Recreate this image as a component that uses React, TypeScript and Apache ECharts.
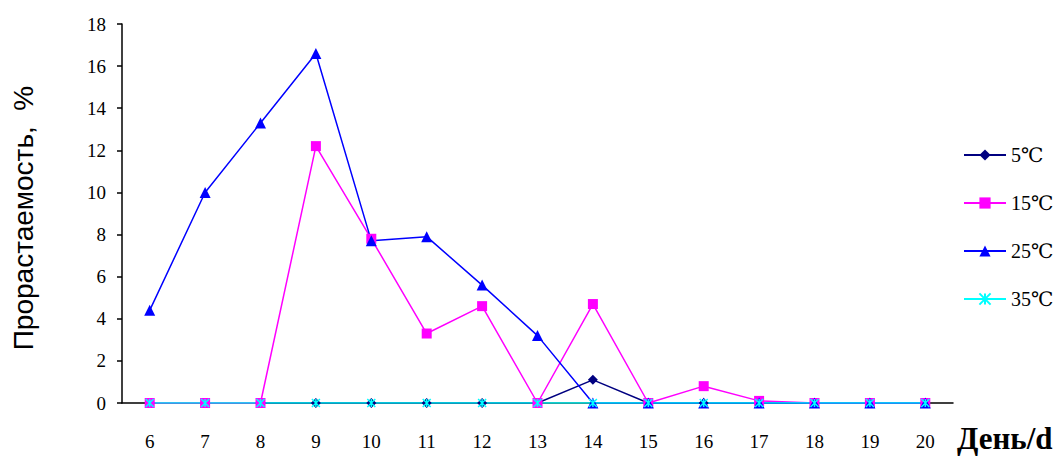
import React, { useEffect, useRef } from "react";
import * as echarts from "echarts";

const days = ["6", "7", "8", "9", "10", "11", "12", "13", "14", "15", "16", "17", "18", "19", "20"];
const t5 = [0, 0, 0, 0, 0, 0, 0, 0, 1.1, 0, 0, 0, 0, 0, 0];
const t15 = [0, 0, 0, 12.2, 7.8, 3.3, 4.6, 0, 4.7, 0, 0.8, 0.1, 0, 0, 0];
const t25 = [4.4, 10.0, 13.3, 16.6, 7.7, 7.9, 5.6, 3.2, 0, 0, 0, 0, 0, 0, 0];
const t35 = [0, 0, 0, 0, 0, 0, 0, 0, 0, 0, 0, 0, 0, 0, 0];
const seriesNames = ["5℃", "15℃", "25℃", "35℃"];

const serif = "'Liberation Serif', 'DejaVu Serif', serif";
const asterisk = "path://M0,0L10,10M10,0L0,10M5,0L5,10";

export default function App() {
  const ref = useRef<HTMLDivElement>(null);
  useEffect(() => {
    const chart = echarts.init(ref.current!, null, { renderer: "svg" });
    const mk = (name: string, data: number[], color: string, symbol: string, size: number, extra: any = {}) => ({
      name,
      type: "line",
      data,
      symbol,
      symbolSize: size,
      lineStyle: { color, width: 1.5 },
      itemStyle: { color, ...extra },
    });
    chart.setOption({
      animation: false,
      backgroundColor: "#fff",
      grid: { left: 122, top: 24, right: 106, bottom: 53 },
      legend: {
        orient: "vertical",
        left: 958,
        top: 140,
        itemWidth: 42,
        itemHeight: 14,
        itemGap: 28,
        textStyle: { fontFamily: serif, fontSize: 20, lineHeight: 16, color: "#000" },
        data: seriesNames,
      },
      xAxis: {
        type: "category",
        data: days,
        boundaryGap: true,
        axisLine: { lineStyle: { color: "#000", width: 1.5 } },
        axisTick: { inside: true, length: 6, lineStyle: { color: "#000", width: 1.5 } },
        axisLabel: { fontFamily: serif, fontSize: 19, color: "#000", margin: 29 },
      },
      yAxis: {
        type: "value",
        min: 0,
        max: 18,
        interval: 2,
        splitLine: { show: false },
        axisLine: { show: true, lineStyle: { color: "#000", width: 1.5 } },
        axisTick: { show: true, length: 5, lineStyle: { color: "#000", width: 1.5 } },
        axisLabel: { fontFamily: serif, fontSize: 19, color: "#000", margin: 16 },
      },
      graphic: [
        {
          type: "text",
          x: 23,
          y: 218,
          rotation: Math.PI / 2,
          style: {
            text: "Прорастаемость,  %",
            fontFamily: "'Liberation Sans', Arial, sans-serif",
            fontSize: 28,
            fill: "#000",
            align: "center",
            verticalAlign: "middle",
          },
        },
        {
          type: "text",
          left: 957,
          top: 423,
          style: {
            text: "День/d",
            fontFamily: serif,
            fontSize: 31,
            fontWeight: "bold",
            fill: "#000",
          },
        },
      ],
      series: [
        mk("5℃", t5, "#000080", "diamond", 10),
        mk("15℃", t15, "#FF00FF", "rect", 10),
        mk("25℃", t25, "#0000FF", "triangle", 11),
        mk("35℃", t35, "#00FFFF", asterisk, 8, { borderColor: "#00FFFF", borderWidth: 1.5 }),
      ],
    });
    return () => chart.dispose();
  }, []);
  return <div ref={ref} style={{ position: "fixed", left: 0, top: 0, width: 1059, height: 456 }} />;
}
